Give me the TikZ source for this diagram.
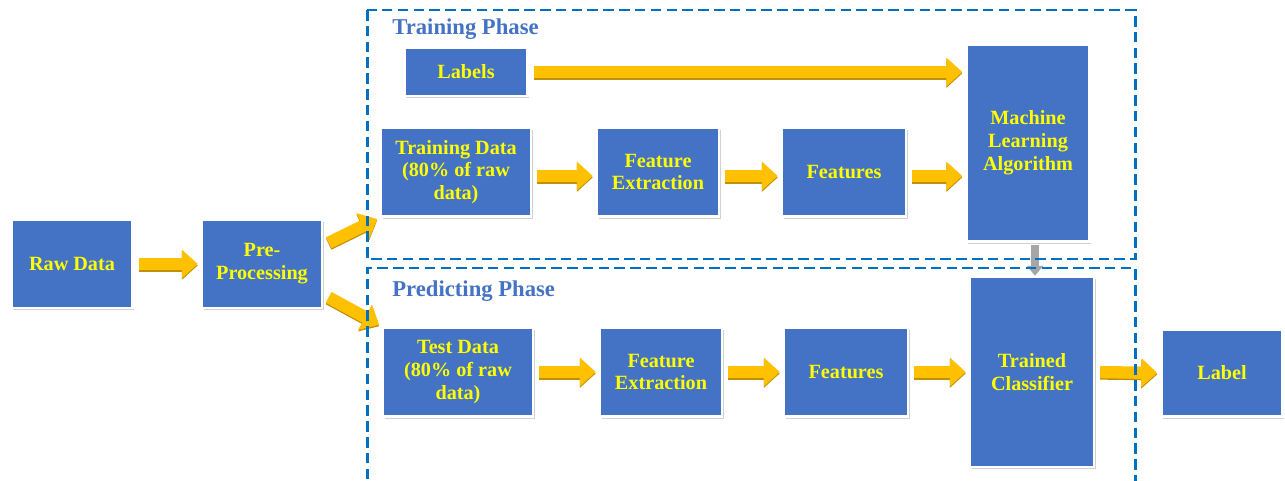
\documentclass[tikz,border=0pt]{standalone}
\usepackage{fontspec}
\setmainfont{Liberation Serif}
\usepackage{tikz}
\usetikzlibrary{arrows.meta,shadows}
\definecolor{boxblue}{RGB}{68,114,196}
\definecolor{boxyellow}{RGB}{255,255,0}
\definecolor{titleblue}{RGB}{68,114,196}
\definecolor{dashblue}{RGB}{0,112,192}
\definecolor{arrowgold}{RGB}{255,192,0}
\definecolor{golddark}{RGB}{191,144,0}
\tikzstyle{block} = [rectangle, draw=white, line width=1.4pt, fill=boxblue, text=boxyellow, font=\bfseries\fontsize{11.5}{13}\selectfont, align=center, inner sep=0pt, minimum width=2.44cm, minimum height=1.78cm, drop shadow={opacity=0.4,shadow xshift=1.1pt,shadow yshift=-1.3pt,fill=black!45}]
\tikzstyle{arrow} = [line width=7pt, draw=arrowgold, shorten <=0.1cm, shorten >=0.06cm, -{Triangle[width=0.56cm,length=0.32cm]}, preaction={draw=golddark, line width=7pt, transform canvas={yshift=-0.8pt}}]
\tikzstyle{grayarrow} = [line width=5pt, draw=black!35, shorten <=0.05cm, -{Triangle[width=0.32cm,length=0.2cm]}]
\tikzstyle{phase} = [dash pattern=on 6pt off 3pt, line width=1.7pt, draw=dashblue]
\tikzstyle{title} = [anchor=west, inner sep=0pt, text=titleblue, font=\bfseries\fontsize{12.9}{15}\selectfont]

\begin{document}
\begin{tikzpicture}
\useasboundingbox (0,0) rectangle (25.7,-9.62);
\node (raw) [block, minimum width=2.42cm, minimum height=1.76cm] at (1.44,-5.28) {Raw Data};
\node (pre) [block, minimum width=2.40cm, minimum height=1.76cm, right of=raw, xshift=2.8cm] {Pre-\\Processing};
\node (train) [block, minimum width=3.0cm, right of=pre, xshift=2.88cm, yshift=1.84cm] {Training Data\\(80\% of raw\\data)};
\node (test) [block, minimum width=3.0cm, right of=pre, xshift=2.92cm, yshift=-2.16cm] {Test Data\\(80\% of raw\\data)};
\node (labels) [block, minimum width=2.46cm, minimum height=0.96cm, above of=train, xshift=0.2cm, yshift=1.0cm] {Labels};
\node (fe1) [block, right of=train, xshift=3.04cm] {Feature\\Extraction};
\node (feat1) [block, minimum width=2.48cm, right of=fe1, xshift=2.72cm] {Features};
\node (mla) [block, minimum width=2.46cm, minimum height=3.94cm, right of=feat1, xshift=2.68cm, yshift=0.58cm] {Machine\\Learning\\Algorithm};
\node (fe2) [block, right of=test, xshift=3.06cm] {Feature\\Extraction};
\node (feat2) [block, minimum width=2.48cm, right of=fe2, xshift=2.70cm] {Features};
\node (tc) [block, minimum width=2.48cm, minimum height=3.80cm, right of=feat2, xshift=2.72cm] {Trained\\Classifier};
\node (label) [block, minimum width=2.42cm, minimum height=1.74cm, right of=tc, xshift=2.80cm, yshift=-0.02cm] {Label};

% connectors
\draw [arrow] (raw.east) -- (pre.west);
\draw [arrow] ([xshift=0.02cm,yshift=0.38cm]pre.east) -- (train.south west);
\draw [arrow] ([xshift=0.02cm,yshift=-0.62cm]pre.east) -- (test.north west);
\draw [arrow] (labels.east) -- (labels.east -| mla.west);
\draw [arrow] ([yshift=-0.08cm]train.east) -- ([yshift=-0.08cm]fe1.west);
\draw [arrow] ([yshift=-0.08cm]fe1.east) -- ([yshift=-0.08cm]feat1.west);
\draw [arrow] ([yshift=-0.08cm]feat1.east) -- ([yshift=-0.08cm]feat1.east -| mla.west);
\draw [arrow] (test.east) -- (fe2.west);
\draw [arrow] (fe2.east) -- (feat2.west);
\draw [arrow] (feat2.east) -- (tc.west);
\draw [arrow] (tc.east) -- (label.west);
\draw [grayarrow] ([xshift=0.14cm]mla.south) -- ([xshift=0.14cm]mla.south |- tc.north);

% phases
\draw [phase] (7.34,-0.20) rectangle (22.70,-5.18);
\draw [phase] (7.34,-9.9) -- (7.34,-5.36) -- (22.70,-5.36) -- (22.70,-9.9);
\node (trainphase) [title] at (7.84,-0.58) {Training Phase};
\node (predphase) [title] at (7.84,-5.82) {Predicting Phase};
\end{tikzpicture}
\end{document}
